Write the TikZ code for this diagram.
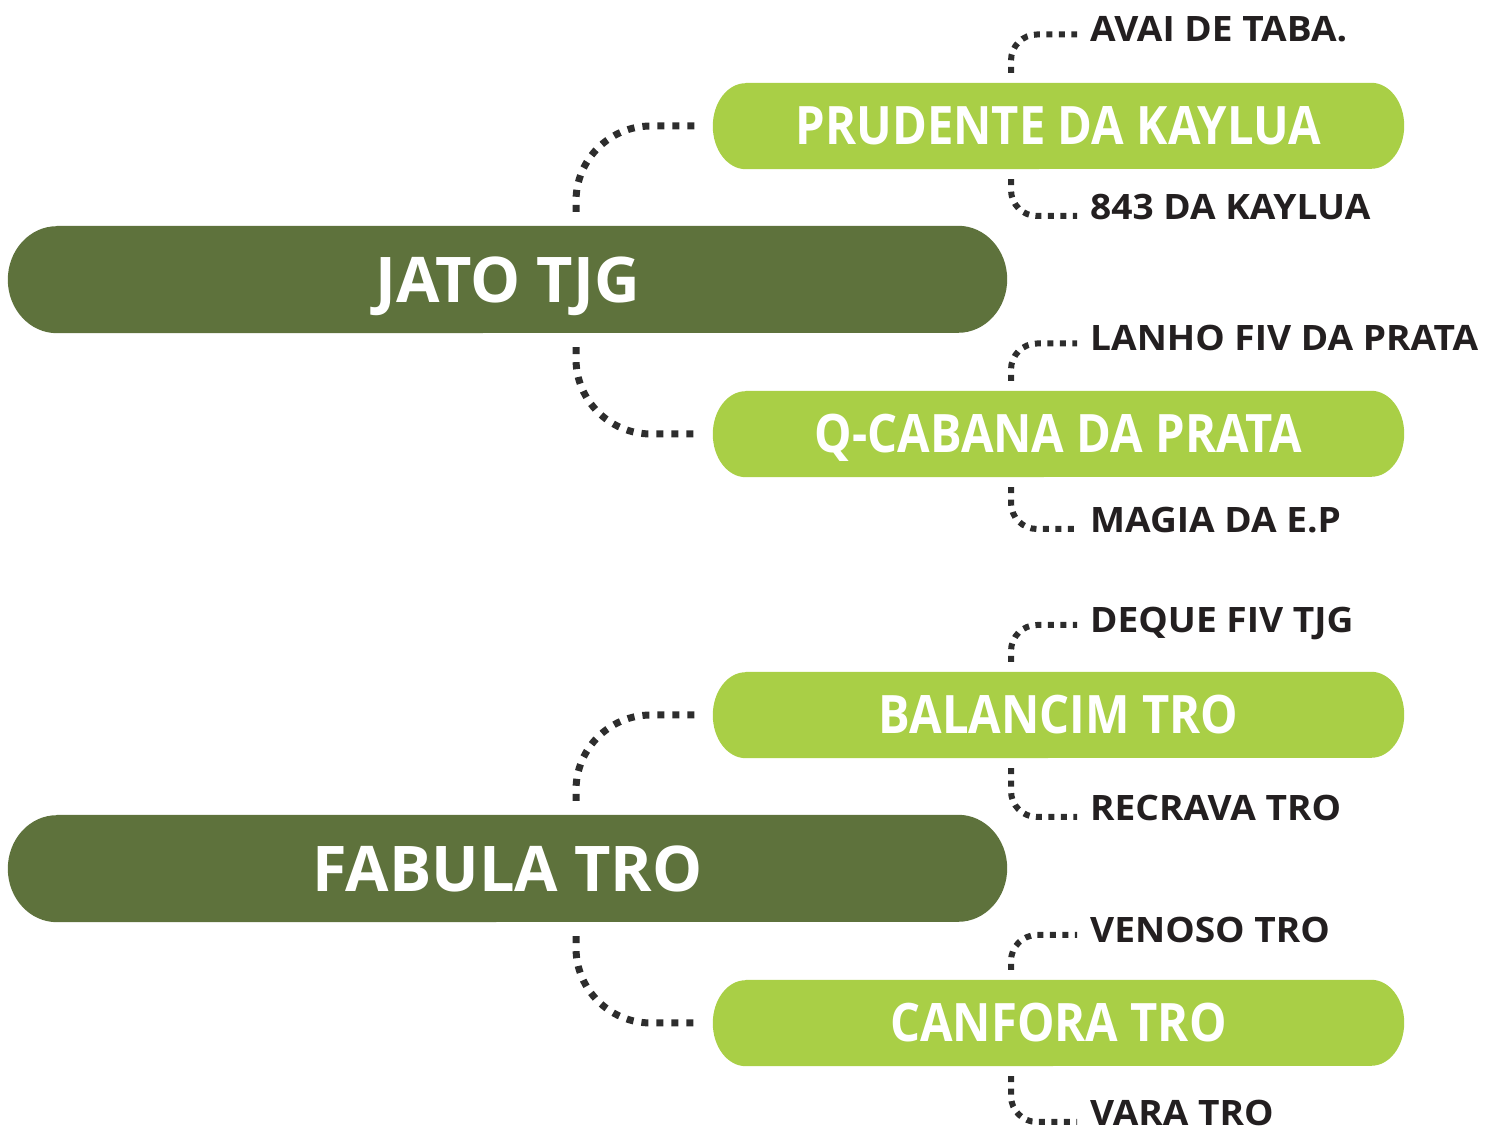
\documentclass[tikz,border=0pt]{standalone}
\usepackage{fontspec}
\setmainfont{Open Sans}
\newfontfamily\pillfont{Open Sans}[FakeStretch=0.89]
\newfontfamily\leaffont{Open Sans}[FakeStretch=1.06]
\usetikzlibrary{backgrounds,calc}
\definecolor{darkgreen}{RGB}{94,114,60}
\definecolor{lightgreen}{RGB}{169,207,70}
\definecolor{dotgray}{RGB}{45,45,45}
\definecolor{leafblack}{RGB}{35,31,32}
\newcommand\pillshape[4]{%
  \fill[#4] ($(#1.north west)+(#2,0)$) -- ($(#1.north east)+(-#2,0)$)
    arc[start angle=90,end angle=-90,x radius=#2,y radius=#3]
    -- ($(#1.south west)+(#2,0)$)
    arc[start angle=270,end angle=90,x radius=#2,y radius=#3] -- cycle;}
\tikzset{
  darkpill/.style={minimum width=999, minimum height=107, inner sep=0,
    text height=45.7, text depth=0, text=white,
    font=\fontsize{63}{63}\selectfont\bfseries},
  lightpill/.style={minimum width=691, minimum height=86, inner sep=0,
    text height=37.8, text depth=0, text=white,
    font=\pillfont\fontsize{53}{53}\selectfont\bfseries},
  leaf/.style={anchor=west, inner sep=0, text height=25, text depth=0,
    text=leafblack, font=\leaffont\fontsize{35}{35}\selectfont\bfseries},
  maindots/.style={draw=dotgray, line width=7, dash pattern=on 7 off 8,
    rounded corners=75},
  leafdots/.style={draw=dotgray, line width=6, dash pattern=on 6 off 6.5,
    rounded corners=26}
}
\begin{document}
\begin{tikzpicture}[x=1pt,y=1pt]
\useasboundingbox (0,0) rectangle (1492,1135);
% main pills
\node[darkpill] (D1) at (507.5,855.5) {JATO TJG};
\node[darkpill] (D2) at (507.5,266.5) {FABULA TRO};
% secondary pills
\node[lightpill] (P1) at (1058.5,1009) {PRUDENTE DA KAYLUA};
\node[lightpill] (P2) at (1058.5,701) {Q-CABANA DA PRATA};
\node[lightpill] (P3) at (1058.5,420) {BALANCIM TRO};
\node[lightpill] (P4) at (1058.5,112) {CANFORA TRO};
% leaves
\node[leaf] (L1) at (1090,1105.5) {AVAI DE TABA.};
\node[leaf] (L2) at (1090,928) {843 DA KAYLUA};
\node[leaf] (L3) at (1090,796.5) {LANHO FIV DA PRATA};
\node[leaf] (L4) at (1090,615) {MAGIA DA E.P};
\node[leaf] (L5) at (1090,515) {DEQUE FIV TJG};
\node[leaf] (L6) at (1090,327) {RECRAVA TRO};
\node[leaf] (L7) at (1090,205) {VENOSO TRO};
\node[leaf] (L8) at (1090,22) {VARA TRO};
\begin{scope}[on background layer]
  \pillshape{D1}{49}{53.5}{darkgreen}
  \pillshape{D2}{49}{53.5}{darkgreen}
  \pillshape{P1}{33}{43}{lightgreen}
  \pillshape{P2}{33}{43}{lightgreen}
  \pillshape{P3}{33}{43}{lightgreen}
  \pillshape{P4}{33}{43}{lightgreen}
\end{scope}
% connectors
\coordinate (mx) at (576,0);
\coordinate (cx) at (1011,0);
\draw[maindots] ($(D1.north -| mx)+(0,14)$) |- ($(P1.west)+(-16,0)$);
\draw[maindots] ($(D1.south -| mx)+(0,-14)$) |- ($(P2.west)+(-16,0)$);
\draw[maindots] ($(D2.north -| mx)+(0,14)$) |- ($(P3.west)+(-16,0)$);
\draw[maindots] ($(D2.south -| mx)+(0,-14)$) |- ($(P4.west)+(-16,0)$);
\draw[leafdots] ($(P1.north -| cx)+(0,10)$) |- ($(L1.west)+(-13,-5)$);
\draw[leafdots] ($(P1.south -| cx)+(0,-10)$) |- ($(L2.west)+(-13,-9)$);
\draw[leafdots] ($(P2.north -| cx)+(0,10)$) |- ($(L3.west)+(-13,-5)$);
\draw[leafdots] ($(P2.south -| cx)+(0,-10)$) |- ($(L4.west)+(-13,-9)$);
\draw[leafdots] ($(P3.north -| cx)+(0,10)$) |- ($(L5.west)+(-13,-5)$);
\draw[leafdots] ($(P3.south -| cx)+(0,-10)$) |- ($(L6.west)+(-13,-9)$);
\draw[leafdots] ($(P4.north -| cx)+(0,10)$) |- ($(L7.west)+(-13,-5)$);
\draw[leafdots] ($(P4.south -| cx)+(0,-10)$) |- ($(L8.west)+(-13,-9)$);
\end{tikzpicture}
\end{document}
